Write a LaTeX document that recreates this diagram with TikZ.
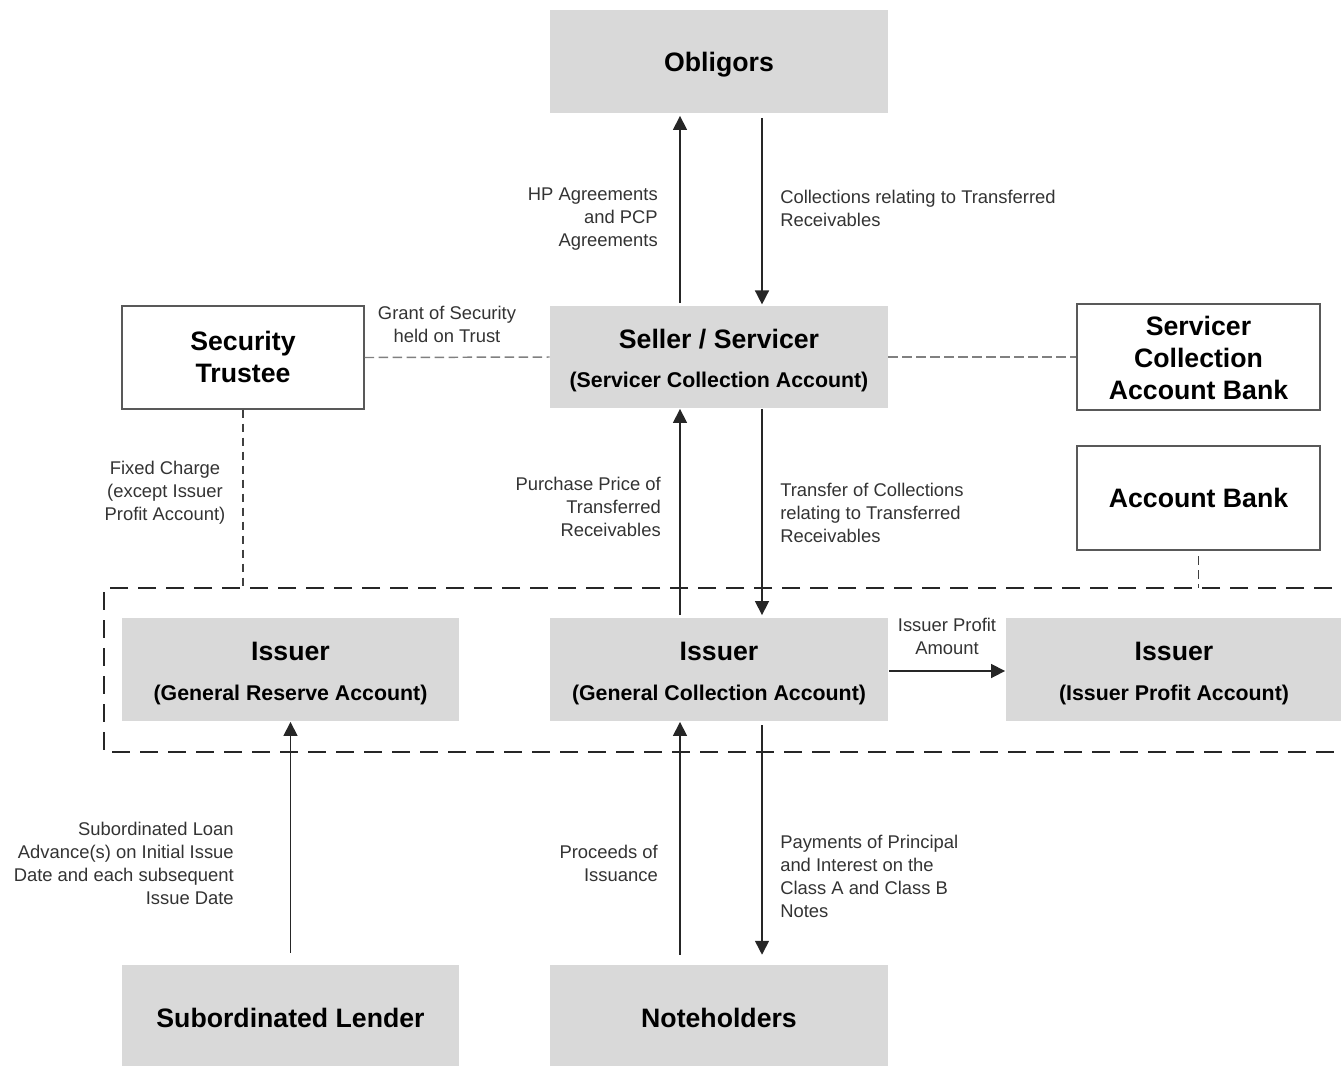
\documentclass[tikz,border=0pt]{standalone}
\usepackage{fontspec}
\setmainfont{Liberation Sans}
\usetikzlibrary{arrows.meta}
\definecolor{boxgray}{HTML}{D9D9D9}
\definecolor{edgegray}{HTML}{595959}
\definecolor{txt}{HTML}{333333}
\definecolor{arrowc}{HTML}{262626}
\begin{document}
\begin{tikzpicture}[x=0.75pt,y=-0.75pt,
  graybox/.style={fill=boxgray, draw=none, inner sep=0pt},
  whitebox/.style={fill=white, draw=edgegray, line width=1.1pt, inner sep=0pt},
  ttl/.style={font=\fontsize{20}{24}\selectfont\bfseries, text=black, inner sep=0pt, align=center},
  subt/.style={font=\fontsize{16}{19}\selectfont\bfseries, text=black, inner sep=0pt, anchor=base},
  lbl/.style={font=\fontsize{13.8}{17.25}\selectfont, text=txt, inner sep=0pt},
  arr/.style={-{Triangle[length=10.5pt,width=10.5pt]}, line width=1.2pt, draw=arrowc, shorten <=2pt, shorten >=2pt},
  thindash/.style={draw=gray, line width=1.1pt, dash pattern=on 7pt off 3.5pt},
  vdash/.style={draw=black!75, line width=1.1pt, dash pattern=on 6.5pt off 4pt},
  encl/.style={draw=black!85, line width=1.9pt, dash pattern=on 13.5pt off 7.5pt}
]
\useasboundingbox (0,0) rectangle (1341,1065);
\clip (0,0) rectangle (1341,1065);

% boxes
\node[graybox, minimum width=338*0.75pt, minimum height=103*0.75pt] (obl) at (719,61.5) {};
\node[graybox, minimum width=338*0.75pt, minimum height=102*0.75pt] (sell) at (719,357) {};
\node[whitebox, minimum width=242*0.75pt, minimum height=103*0.75pt] (st) at (243,357.5) {};
\node[whitebox, minimum width=243*0.75pt, minimum height=106*0.75pt] (scab) at (1198.5,357) {};
\node[whitebox, minimum width=243*0.75pt, minimum height=104*0.75pt] (ab) at (1198.5,498) {};
\node[graybox, minimum width=337*0.75pt, minimum height=103*0.75pt] (igr) at (290.5,669.5) {};
\node[graybox, minimum width=338*0.75pt, minimum height=103*0.75pt] (igc) at (719,669.5) {};
\node[graybox, minimum width=336*0.75pt, minimum height=103*0.75pt] (ipa) at (1174,669.5) {};
\node[graybox, minimum width=337*0.75pt, minimum height=104*0.75pt] (sl) at (290.5,1017) {};
\node[graybox, minimum width=338*0.75pt, minimum height=104*0.75pt] (nh) at (719,1017) {};

% box texts
\node[ttl, anchor=base] (t-obl) at (719,71.5) {Obligors};
\node[ttl, anchor=base] (t-sell) at (719,348.5) {Seller / Servicer};
\node[subt] (s-sell) at (719,387.6) {(Servicer Collection Account)};
\node[ttl] (t-st) at (243,357) {Security\\Trustee};
\node[ttl] (t-scab) at (1198.5,358) {Servicer\\Collection\\Account Bank};
\node[ttl, anchor=base] (t-ab) at (1198.5,507.5) {Account Bank};
\node[ttl, anchor=base] (t-igr) at (290.5,660.5) {Issuer};
\node[subt] (s-igr) at (290.5,700.6) {(General Reserve Account)};
\node[ttl, anchor=base] (t-igc) at (719,660.5) {Issuer};
\node[subt] (s-igc) at (719,700.6) {(General Collection Account)};
\node[ttl, anchor=base] (t-ipa) at (1174,660.5) {Issuer};
\node[subt] (s-ipa) at (1174,700.6) {(Issuer Profit Account)};
\node[ttl, anchor=base] (t-sl) at (290.5,1027.5) {Subordinated Lender};
\node[ttl, anchor=base] (t-nh) at (719,1027.5) {Noteholders};

% helper coordinates
\coordinate (xl) at (680,0);
\coordinate (xr) at (762,0);
\coordinate (ya) at (0,671);
\coordinate (etl) at (104,588);
\coordinate (ebl) at (104,752);
\coordinate (etr) at (1360,588);
\coordinate (ebr) at (1360,752);

% enclosure
\draw[encl] (etr) -- (etl) -- (ebl) -- (ebr);

% dashed links
\draw[thindash] (st.east) -- (sell.west);
\draw[thindash] (sell.east) -- (scab.west);
\draw[vdash] (st.south) -- (st.south |- etl);
\draw[vdash, shorten <=4pt] (ab.south) -- (ab.south |- etl);

% arrows
\draw[arr] (sell.north -| xl) -- (obl.south -| xl);
\draw[arr, shorten <=3.5pt, shorten >=1pt] (obl.south -| xr) -- (sell.north -| xr);
\draw[arr, shorten >=0.5pt] (igc.north -| xl) -- (sell.south -| xl);
\draw[arr, shorten <=0.5pt] (sell.south -| xr) -- (igc.north -| xr);
\draw[arr, shorten <=0.5pt, shorten >=0.5pt] (igc.east |- ya) -- (ipa.west |- ya);
\draw[arr, shorten <=9pt, shorten >=0.5pt] (sl.north) -- (igr.south);
\draw[arr, shorten <=7.5pt, shorten >=0.5pt] (nh.north -| xl) -- (igc.south -| xl);
\draw[arr, shorten <=3pt, shorten >=7.5pt] (igc.south -| xr) -- (nh.north -| xr);

% labels
\node[lbl, anchor=east, align=right] (l-hp) at (658,219) {HP Agreements\\and PCP\\Agreements};
\node[lbl, anchor=west, align=left] (l-coll) at (780,208.5) {Collections relating to Transferred\\Receivables};
\node[lbl, align=center] (l-grant) at (447,324.5) {Grant of Security\\held on Trust};
\node[lbl, align=center] (l-fixed) at (165,493) {Fixed Charge\\(except Issuer\\Profit Account)};
\node[lbl, anchor=east, align=right] (l-pp) at (661,506.5) {Purchase Price of\\Transferred\\Receivables};
\node[lbl, anchor=west, align=left] (l-tc) at (780,512.5) {Transfer of Collections\\relating to Transferred\\Receivables};
\node[lbl, align=center] (l-ipa) at (947,636.5) {Issuer Profit\\Amount};
\node[lbl, anchor=east, align=right] (l-sub) at (234,863) {Subordinated Loan\\Advance(s) on Initial Issue\\Date and each subsequent\\Issue Date};
\node[lbl, anchor=east, align=right] (l-proc) at (658,863.5) {Proceeds of\\Issuance};
\node[lbl, anchor=west, align=left] (l-pay) at (780,876) {Payments of Principal\\and Interest on the\\Class A and Class B\\Notes};
\end{tikzpicture}
\end{document}
